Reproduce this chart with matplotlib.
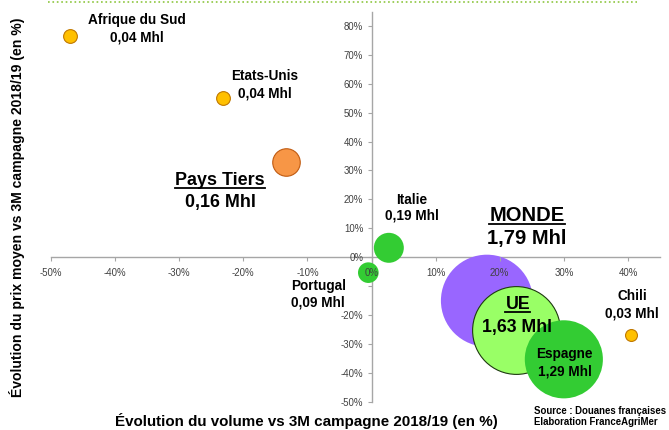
import numpy as np
import matplotlib.pyplot as plt
from matplotlib.lines import Line2D

plt.rcParams.update({
    'font.family': ['Liberation Sans', 'DejaVu Sans'],
    'font.size': 9.8,
})

# données
pays = ['Afrique du Sud', 'Etats-Unis', 'Pays Tiers', 'Italie', 'Portugal',
        'MONDE', 'UE', 'Espagne', 'Chili']
volume_evol = [-47, -23.2, -13.3, 2.7, -0.5, 18.0, 22.5, 30.0, 40.5]   # en %
prix_evol = [76.6, 55.1, 33.0, 3.2, -5.4, -15.1, -25.1, -35.4, -27.1]  # en %
volume_mhl = [0.04, 0.04, 0.16, 0.19, 0.09, 1.79, 1.63, 1.29, 0.03]
etiquettes = ['0,04 Mhl', '0,04 Mhl', '0,16 Mhl', '0,19 Mhl', '0,09 Mhl',
              '1,79 Mhl', '1,63 Mhl', '1,29 Mhl', '0,03 Mhl']

couleurs = ['#FFC000', '#FFC000', '#F79646', '#33CC33', '#33CC33',
            '#9966FF', '#99FF66', '#33CC33', '#FFC000']
bords = ['#C07800', '#C07800', '#C05A10', 'none', 'none',
         'none', '#1E3A10', 'none', '#C07800']
ordre = [5, 6, 7, 0, 1, 2, 3, 4, 8]

# position des étiquettes (décalage en points: nom, valeur), taille, souligné
decal = {
    'Afrique du Sud': ((48, 11), (48, -1), 9.8, False),
    'Etats-Unis': ((30, 16), (30, 3), 9.8, False),
    'Pays Tiers': ((-47.5, -13.7), (-47.5, -29.5), 12.9, True),
    'Italie': ((16.6, 34.6), (16.6, 23), 9.8, False),
    'Portugal': ((-36, -9.4), (-36, -21.6), 9.8, False),
    'MONDE': ((28.8, 61.5), (28.8, 44.5), 14.5, True),
    'UE': ((1.4, 18), (0.7, 1.4), 12.8, True),
    'Espagne': ((0.7, 3.6), (0.7, -8.6), 9.8, False),
    'Chili': ((0.7, 28), (0.7, 15.8), 9.8, False),
}

fig = plt.figure(figsize=(6.69, 4.30), dpi=100)
ax = fig.add_axes([51 / 669, 28.5 / 430, 609 / 669, 390 / 430])
ax.set_xlim(-50, 45)
ax.set_ylim(-50, 85)

# taille des bulles proportionnelle au volume (rayon 46 px pour 1,79 Mhl)
s_max = (2 * 46 * 0.72) ** 2
for i in ordre:
    ax.scatter(volume_evol[i], prix_evol[i], s=s_max * volume_mhl[i] / max(volume_mhl),
               color=couleurs[i], edgecolors=bords[i], linewidths=0.8, zorder=1)

for sp in ['top', 'right']:
    ax.spines[sp].set_visible(False)
ax.spines['left'].set_position(('data', 0))
ax.spines['bottom'].set_position(('data', 0))
for sp in ['left', 'bottom']:
    ax.spines[sp].set_color('#A6A6A6')
    ax.spines[sp].set_linewidth(1.0)
    ax.spines[sp].set_zorder(0.5)

ax.set_xticks(np.arange(-50, 41, 10))
ax.set_yticks(np.arange(-50, 81, 10))
ax.set_xticklabels([f'{v}%' for v in range(-50, 41, 10)])
# l'étiquette -10% de l'axe vertical est masquée par "Portugal" dans l'original
ax.set_yticklabels(['' if v == -10 else f'{v}%' for v in range(-50, 81, 10)])
ax.tick_params(axis='both', labelsize=6.9, labelcolor='#404040', color='#A6A6A6',
               length=3, width=0.8, direction='out')
ax.tick_params(axis='x', pad=5)
ax.tick_params(axis='y', pad=3)

noms = []
for i, nom in enumerate(pays):
    o_nom, o_val, taille, souligne = decal[nom]
    t = ax.annotate(nom, (volume_evol[i], prix_evol[i]), xytext=o_nom,
                    textcoords='offset points', ha='center', va='center',
                    fontsize=taille, fontweight='bold', zorder=5)
    ax.annotate(etiquettes[i], (volume_evol[i], prix_evol[i]), xytext=o_val,
                textcoords='offset points', ha='center', va='center',
                fontsize=taille, fontweight='bold', zorder=5)
    if souligne:
        noms.append(t)

fig.text(17 / 669, 1 - 207.5 / 430, 'Évolution du prix moyen vs 3M campagne 2018/19 (en %)',
         rotation=90, ha='center', va='center', fontsize=10.1, fontweight='bold')
fig.text(306.5 / 669, 1 - 421 / 430, 'Évolution du volume vs 3M campagne 2018/19 (en %)',
         ha='center', va='center', fontsize=10.9, fontweight='bold')
fig.text(534 / 669, 1 - 411 / 430, 'Source : Douanes françaises', ha='left', va='center',
         fontsize=6.9, fontweight='bold')
fig.text(534 / 669, 1 - 422 / 430, 'Elaboration FranceAgriMer', ha='left', va='center',
         fontsize=6.9, fontweight='bold')

# ligne pointillée verte en haut
fig.add_artist(Line2D([48 / 669, 637 / 669], [1 - 1.5 / 430, 1 - 1.5 / 430],
                      color='#8DC63F', linestyle=':', linewidth=1.2))

# soulignement des titres
fig.canvas.draw()
r = fig.canvas.get_renderer()
for t in noms:
    bb = t.get_window_extent(r)
    y = bb.y0 + 1
    fig.add_artist(Line2D([bb.x0 / 669, bb.x1 / 669], [y / 430, y / 430],
                          color='black', linewidth=1.3))

fig.savefig('out.png', dpi=100)
